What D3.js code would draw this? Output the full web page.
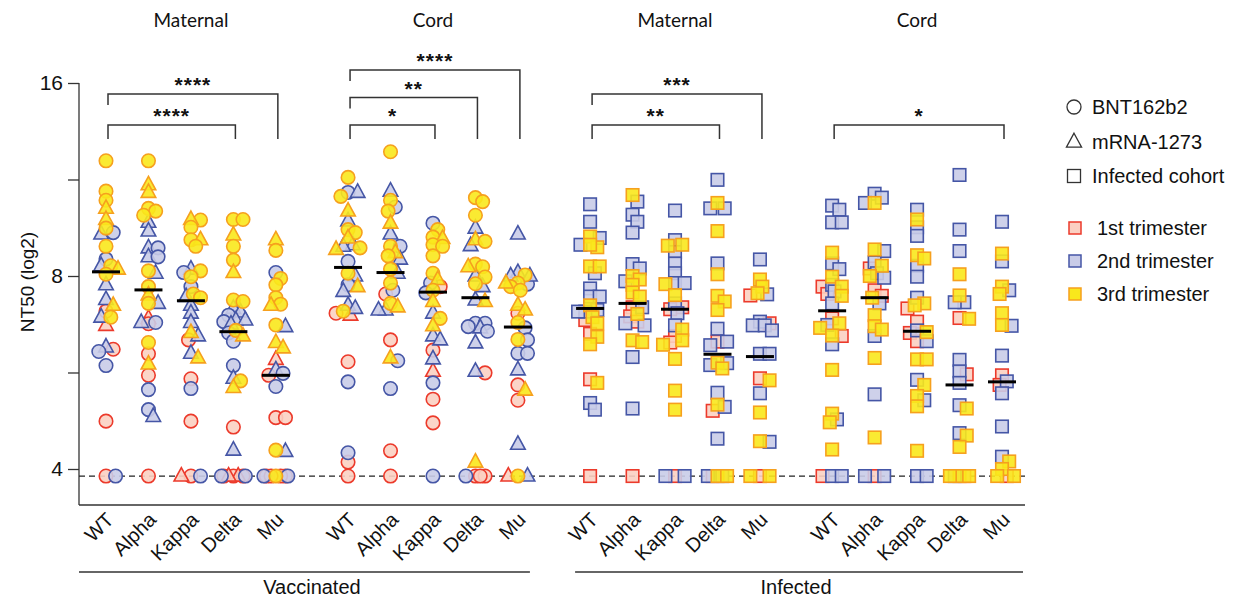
<!DOCTYPE html>
<html>
<head>
<meta charset="utf-8">
<script src="https://cdn.jsdelivr.net/npm/d3@7"></script>
<style>
  body { margin: 0; background: #fff; }
  text { font-family: "Liberation Sans", Arial, sans-serif; fill: #111; }
</style>
</head>
<body>
<svg id="chart" width="1245" height="598"></svg>
<script>
const variants = ["WT", "Alpha", "Kappa", "Delta", "Mu"];
const panels = ["Maternal", "Cord", "Maternal", "Cord"];
const cohorts = ["Vaccinated", "Infected"];
const yTicks = [4, 5.657, 8, 11.314, 16];
const LOD = 3.9;

// vaccinated: [NT50 (log2), vaccine C=BNT162b2 / T=mRNA-1273, trimester]
const vmWT = [[12.1,"C",3],[10.85,"C",3],[10.5,"C",3],[10.2,"T",3],[9.8,"T",3],[9.5,"C",3],[9.35,"C",2],[9.3,"T",2],[8.9,"C",3],[8.5,"C",2],[8.3,"C",3],[8.3,"T",2],[8.2,"T",3],[8.05,"C",3],[7.75,"T",2],[7.35,"T",2],[7.2,"T",3],[7.05,"C",1],[6.9,"C",3],[6.9,"T",2],[6.7,"T",1],[6.15,"C",1],[6.2,"T",2],[6.1,"C",2],[5.8,"C",2],[4.75,"C",1],[3.9,"C",1],[3.9,"C",2]];
const vmAlpha = [[12.1,"C",3],[11.1,"T",3],[10.8,"T",3],[10.2,"C",3],[10.1,"C",3],[9.95,"C",3],[9.7,"T",2],[9.4,"T",2],[8.85,"T",2],[8.85,"C",2],[8.57,"T",2],[8.57,"C",2],[8.15,"C",3],[8.08,"T",2],[7.7,"C",3],[7.47,"T",3],[7.25,"C",3],[7.25,"T",2],[6.87,"T",1],[6.74,"C",1],[6.77,"C",2],[6.77,"T",2],[6.3,"C",3],[6.05,"C",1],[5.83,"T",3],[5.6,"C",1],[5.32,"C",2],[4.95,"C",2],[4.83,"T",2],[3.9,"C",1]];
const vmKappa = [[9.78,"C",3],[9.8,"T",3],[9.53,"C",3],[9.11,"C",3],[9.11,"T",3],[8.9,"C",3],[8.2,"T",2],[8.1,"C",2],[8.15,"C",3],[7.98,"C",3],[7.7,"C",2],[7.5,"C",3],[7.4,"C",3],[7.43,"T",2],[7.2,"T",2],[7.0,"T",2],[6.77,"T",2],[6.53,"T",3],[6.36,"C",1],[6.45,"T",2],[5.96,"T",3],[6.06,"T",2],[5.53,"C",1],[5.34,"C",2],[4.75,"C",1],[3.9,"C",1],[3.9,"C",2],[3.9,"T",1]];
const vmDelta = [[9.8,"C",3],[9.8,"C",3],[9.27,"T",3],[8.9,"C",3],[8.47,"C",3],[8.1,"T",3],[7.34,"C",3],[7.3,"C",3],[7.12,"T",2],[7.03,"T",2],[6.95,"C",2],[6.83,"T",2],[6.83,"T",2],[6.79,"C",2],[6.73,"T",2],[6.58,"C",3],[6.52,"C",2],[6.45,"T",3],[6.33,"C",2],[5.8,"C",2],[5.54,"T",2],[5.49,"C",3],[5.36,"T",3],[4.65,"C",1],[4.28,"T",2],[3.9,"C",1],[3.9,"C",1],[3.9,"C",1],[3.9,"T",1],[3.9,"T",1],[3.9,"C",2],[3.9,"C",2]];
const vmMu = [[9.11,"T",3],[8.77,"C",3],[8.1,"C",2],[7.93,"C",3],[7.75,"C",3],[7.4,"C",3],[7.23,"C",3],[7.2,"T",3],[6.71,"C",3],[6.67,"T",2],[6.3,"T",3],[6.18,"T",3],[5.93,"T",1],[5.71,"T",2],[5.64,"C",2],[5.6,"C",1],[5.38,"C",2],[4.81,"C",1],[4.81,"C",1],[4.28,"C",3],[4.26,"T",2],[3.9,"C",3],[3.9,"C",1],[3.9,"C",1],[3.9,"C",1],[3.9,"C",1],[3.9,"C",2],[3.9,"C",2]];
const vcWT = [[11.4,"C",3],[10.8,"C",2],[10.8,"T",2],[10.65,"C",3],[10.1,"T",3],[9.75,"T",2],[9.45,"C",3],[9.35,"C",3],[9.17,"T",3],[8.95,"T",2],[8.9,"T",2],[8.85,"C",3],[8.8,"T",3],[8.43,"C",2],[8.08,"C",3],[8.0,"T",2],[7.75,"C",2],[7.7,"T",3],[7.57,"T",2],[7.2,"T",2],[7.12,"T",2],[7.05,"C",3],[6.95,"T",1],[7.0,"C",1],[5.88,"C",1],[5.47,"C",2],[4.24,"C",2],[4.1,"C",1],[3.9,"C",1]];
const vcAlpha = [[12.5,"C",3],[10.85,"T",2],[10.5,"C",3],[10.25,"C",2],[10.1,"C",3],[9.67,"T",3],[9.3,"T",2],[8.9,"C",3],[8.9,"C",2],[8.7,"T",3],[8.6,"C",3],[8.5,"T",2],[8.2,"C",3],[8.08,"T",2],[7.8,"C",3],[7.6,"C",2],[7.5,"C",1],[7.25,"C",3],[7.08,"T",2],[7.08,"T",2],[7.16,"T",3],[6.36,"C",1],[5.96,"T",3],[5.9,"C",2],[5.34,"C",2],[4.27,"C",1],[3.9,"C",1]];
const vcKappa = [[9.67,"C",2],[9.45,"C",3],[9.2,"C",3],[9.15,"T",3],[8.95,"C",3],[8.9,"C",3],[8.6,"C",3],[8.08,"C",3],[7.9,"T",3],[7.8,"C",2],[7.7,"C",1],[7.6,"C",3],[7.53,"C",2],[7.3,"T",3],[7.0,"T",2],[6.87,"C",3],[6.69,"T",3],[6.45,"T",2],[6.36,"T",2],[6.13,"C",1],[5.94,"T",2],[5.68,"T",1],[5.45,"C",2],[5.14,"C",1],[4.72,"C",1],[3.9,"C",2]];
const vcDelta = [[10.6,"C",3],[10.45,"C",3],[9.95,"C",3],[9.5,"T",2],[9.11,"T",3],[9.06,"C",3],[8.92,"T",2],[8.35,"C",3],[8.27,"C",3],[8.27,"T",3],[7.97,"C",3],[8.0,"T",2],[7.78,"C",3],[7.7,"T",2],[7.3,"T",3],[7.34,"T",2],[6.75,"C",2],[6.75,"C",2],[6.64,"T",2],[6.56,"C",2],[6.67,"C",2],[6.29,"T",2],[5.65,"C",1],[5.68,"T",2],[4.1,"T",3],[3.9,"C",1],[3.9,"C",1],[3.9,"C",2],[3.9,"C",1]];
const vcMu = [[9.3,"T",2],[8.1,"T",2],[8.0,"T",2],[7.77,"C",2],[8.03,"C",3],[7.8,"C",3],[7.7,"C",3],[7.8,"T",3],[8.0,"T",2],[7.6,"C",3],[7.2,"T",3],[7.0,"C",1],[7.08,"T",3],[6.77,"C",3],[6.64,"C",2],[6.37,"C",3],[6.36,"C",2],[6.06,"C",2],[6.06,"C",2],[5.71,"T",2],[5.41,"C",1],[5.31,"T",3],[5.12,"C",1],[4.37,"T",2],[3.9,"C",3],[3.9,"T",2],[3.9,"T",1]];

// infected cohort: [NT50 (log2), trimester]
const imWT = [[10.35,2],[9.72,2],[9.22,3],[9.17,2],[8.87,3],[8.95,3],[8.95,2],[8.28,3],[8.28,3],[8.08,2],[7.65,2],[7.43,2],[7.43,2],[7.2,3],[7.08,2],[7.04,2],[7.04,2],[6.83,1],[6.9,3],[6.75,3],[6.5,1],[6.43,3],[6.26,3],[5.52,1],[5.45,3],[5.07,2],[4.95,2],[3.9,1]];
const imAlpha = [[10.7,3],[10.45,2],[9.97,2],[9.72,2],[9.35,2],[8.35,2],[8.22,2],[8.0,3],[7.9,3],[7.85,2],[7.75,3],[7.54,3],[7.43,3],[7.15,1],[7.15,2],[6.98,3],[6.92,1],[6.75,2],[6.7,2],[6.79,1],[6.35,3],[6.31,3],[5.98,2],[4.97,2],[3.9,1]];
const imKappa = [[10.12,2],[8.95,3],[8.92,3],[9.1,2],[8.72,2],[8.37,2],[8.08,2],[7.8,2],[7.8,2],[7.77,3],[7.47,3],[7.25,2],[7.15,1],[7.1,1],[7.0,2],[6.7,2],[6.45,1],[6.6,3],[6.35,3],[6.3,1],[6.25,3],[5.94,3],[5.3,3],[4.95,3],[3.9,1],[3.9,2],[3.9,2]];
const imDelta = [[11.3,2],[10.4,3],[10.2,2],[10.2,2],[9.4,3],[8.37,2],[8.05,3],[7.45,3],[7.3,3],[7.08,3],[6.62,2],[6.32,1],[6.32,2],[6.24,2],[5.85,2],[5.86,3],[5.74,3],[5.81,2],[5.26,2],[5.0,2],[5.04,3],[4.93,1],[4.46,2],[3.9,3],[3.9,3],[3.9,2],[3.9,2],[3.9,1]];
const imMu = [[8.49,2],[7.9,3],[7.7,3],[7.52,3],[7.46,1],[7.49,2],[6.79,2],[6.7,2],[6.7,2],[6.75,1],[6.58,2],[6.05,2],[6.05,2],[5.54,1],[5.5,3],[5.25,2],[4.9,3],[4.42,3],[4.41,2],[3.9,1],[3.9,3],[3.9,3]];
const icWT = [[10.3,2],[10.15,2],[9.7,2],[9.7,2],[8.7,3],[8.37,2],[8.2,2],[7.98,3],[7.75,2],[7.7,3],[7.7,1],[7.57,2],[7.45,3],[7.5,1],[7.25,2],[6.87,1],[6.75,3],[6.71,2],[6.64,3],[6.45,1],[6.46,3],[6.26,2],[5.71,3],[4.78,2],[4.88,3],[4.73,3],[4.29,3],[3.9,2],[3.9,2],[3.9,1]];
const icAlpha = [[10.75,2],[10.6,2],[10.4,3],[10.4,2],[8.8,3],[8.75,2],[8.4,2],[8.3,3],[8.22,1],[8.0,3],[8.08,2],[7.95,2],[7.6,1],[7.45,1],[7.25,2],[7.4,3],[6.95,3],[6.68,3],[6.6,3],[6.45,2],[5.96,3],[5.23,2],[4.48,3],[3.9,1],[3.9,2],[3.9,2]];
const icKappa = [[10.15,2],[9.8,3],[9.53,2],[9.24,2],[8.62,3],[8.52,3],[8.3,2],[7.98,2],[7.25,3],[7.4,2],[7.2,3],[7.12,1],[6.79,1],[6.52,1],[6.58,2],[6.54,3],[6.33,1],[6.33,2],[5.93,3],[5.93,3],[5.51,2],[5.41,3],[5.2,3],[5.12,2],[5.01,3],[4.27,3],[3.9,2],[3.9,2]];
const icDelta = [[11.5,2],[9.45,2],[8.75,2],[8.05,3],[7.46,3],[7.28,2],[7.28,2],[6.86,3],[6.88,1],[5.92,2],[5.68,2],[5.62,1],[5.45,2],[5.03,2],[4.97,3],[4.55,2],[4.51,3],[4.33,3],[3.9,3],[3.9,3],[3.9,3],[3.9,1],[3.9,2]];
const icMu = [[9.72,2],[8.67,3],[8.43,2],[7.7,3],[7.5,3],[7.6,2],[7.0,3],[6.71,3],[6.69,2],[6.01,2],[5.6,1],[5.48,2],[5.41,1],[5.25,2],[4.66,2],[4.18,2],[4.11,3],[4.0,3],[3.9,1],[3.9,3],[3.9,3]];

const medians = [
  [8.12, 7.61, 7.32, 6.55, 5.6],
  [8.25, 8.1, 7.55, 7.4, 6.66],
  [7.12, 7.25, 7.1, 6.04, 5.99],
  [7.06, 7.4, 6.56, 5.41, 5.47]
];

// [panel, from variant, to variant, stack level, label]
const brackets = [
  [0, 0, 4, 1, "****"], [0, 0, 3, 0, "****"],
  [1, 0, 4, 2, "****"], [1, 0, 3, 1, "**"], [1, 0, 2, 0, "*"],
  [2, 0, 4, 1, "***"], [2, 0, 3, 0, "**"],
  [3, 0, 4, 0, "*"]
];

const groups = [
  [vmWT, vmAlpha, vmKappa, vmDelta, vmMu],
  [vcWT, vcAlpha, vcKappa, vcDelta, vcMu],
  [imWT, imAlpha, imKappa, imDelta, imMu],
  [icWT, icAlpha, icKappa, icDelta, icMu]
];

const triFill = { 1: "#fbd0c2", 2: "#c9cce8", 3: "#f9e81c" };
const triStroke = { 1: "#ec3a2b", 2: "#4556a6", 3: "#f6a01e" };

const svg = d3.select("#chart");
const y = d3.scaleLog().base(2).domain([4, 16]).range([469, 83]);
const slot = (g, i) => g * 5.7 + i;
const x = d3.scaleLinear().domain([0, slot(3, 4)]).range([106, 1002]);

const axisX0 = 79, axisX1 = 1025, axisY = 505;

// y axis
const yAxis = svg.append("g").attr("transform", `translate(${axisX0},0)`)
  .call(d3.axisLeft(y).tickValues(yTicks).tickSize(11)
    .tickFormat(d => [4, 8, 16].includes(d) ? d : ""));
yAxis.select(".domain").remove();
yAxis.selectAll("line").attr("stroke", "#333").attr("stroke-width", 1.3);
yAxis.selectAll("text").attr("font-size", 21).attr("x", -16)
  .style("font-family", "Liberation Sans, Arial, sans-serif").attr("fill", "#111");

svg.append("line").attr("x1", axisX0).attr("x2", axisX0).attr("y1", y(16)).attr("y2", axisY)
  .attr("stroke", "#333").attr("stroke-width", 1.3);
svg.append("line").attr("x1", axisX0).attr("x2", axisX1).attr("y1", axisY).attr("y2", axisY)
  .attr("stroke", "#333").attr("stroke-width", 1.3);

svg.append("text").attr("transform", `translate(34,${282}) rotate(-90)`)
  .attr("text-anchor", "middle").attr("font-size", 19).text("NT50 (log2)");

// limit of detection
svg.append("line").attr("x1", axisX0).attr("x2", axisX1).attr("y1", y(LOD)).attr("y2", y(LOD))
  .attr("stroke", "#222").attr("stroke-width", 1.2).attr("stroke-dasharray", "6,4");

// symbol paths
const triPath = s => `M0,${-s * 0.58}L${s / 2},${s * 0.34}L${-s / 2},${s * 0.34}Z`;
function drawMark(sel, shape, size) {
  if (shape === "C") return sel.append("circle").attr("r", size / 2);
  if (shape === "T") return sel.append("path").attr("d", triPath(size * 1.08));
  return sel.append("rect").attr("x", -size / 2).attr("y", -size / 2)
    .attr("width", size).attr("height", size);
}

// simple deterministic swarm
function dodge(pts) {
  const D = 7.5, placed = [];
  pts.slice().sort((a, b) => a.py - b.py).forEach(p => {
    let best = 0, bestD = -1;
    for (let k = 0; k <= 10; k++) {
      const off = (k % 2 ? 1 : -1) * Math.ceil(k / 2) * 2.4;
      let md = Infinity;
      placed.forEach(q => { md = Math.min(md, Math.hypot(q.dx - off, q.py - p.py)); });
      if (md >= D) { best = off; break; }
      if (md > bestD) { bestD = md; best = off; }
    }
    p.dx = best;
    placed.push(p);
  });
}

const marks = svg.append("g");
groups.forEach((panel, g) => {
  panel.forEach((arr, i) => {
    const pts = arr.map(d => g < 2
      ? { v: d[0], shape: d[1], tri: d[2] }
      : { v: d[0], shape: "S", tri: d[1] });
    pts.forEach(p => { p.py = y(p.v); });
    dodge(pts);
    const cx = x(slot(g, i));
    pts.sort((a, b) => a.tri - b.tri).forEach(p => {
      const gg = marks.append("g").attr("transform", `translate(${cx + p.dx},${p.py})`);
      drawMark(gg, p.shape, p.shape === "S" ? 12.5 : 13.5)
        .attr("fill", triFill[p.tri]).attr("fill-opacity", 0.9)
        .attr("stroke", triStroke[p.tri]).attr("stroke-width", 1.6);
    });
    svg.append("line").attr("x1", cx - 14).attr("x2", cx + 14)
      .attr("y1", y(medians[g][i])).attr("y2", y(medians[g][i]))
      .attr("stroke", "#000").attr("stroke-width", 3);
  });
});

// category labels
groups.forEach((panel, g) => {
  variants.forEach((v, i) => {
    svg.append("text")
      .attr("transform", `translate(${x(slot(g, i)) + 9},${521}) rotate(-45)`)
      .attr("text-anchor", "end").attr("font-size", 20).text(v);
  });
});

// panel headers
panels.forEach((p, g) => {
  svg.append("text").attr("x", x(slot(g, 2))).attr("y", 27)
    .attr("text-anchor", "middle").attr("font-size", 19)
    .style("font-family", "Lato, 'Liberation Sans', sans-serif").text(p);
});

// cohort lines
cohorts.forEach((c, k) => {
  const x0 = k === 0 ? axisX0 : x(slot(2, 0)) - 15;
  const x1 = k === 0 ? x(slot(1, 4)) + 12 : axisX1 - 2;
  svg.append("line").attr("x1", x0).attr("x2", x1).attr("y1", 572).attr("y2", 572)
    .attr("stroke", "#333").attr("stroke-width", 1.3);
  svg.append("text").attr("x", (x(slot(2 * k, 2)) + x(slot(2 * k + 1, 2))) / 2).attr("y", 594)
    .attr("text-anchor", "middle").attr("font-size", 20).text(c);
});

// significance brackets
brackets.forEach(([g, a, b, lvl, lab]) => {
  const nLev = d3.max(brackets.filter(d => d[0] === g), d => d[3]) + 1;
  const step = nLev === 3 ? 27.5 : 31;
  const top = 125 - lvl * step;
  const xa = x(slot(g, a)) + 2, xb = x(slot(g, b)) + 2;
  const leftBottom = lvl === 0 ? 139 : top + 11;
  svg.append("path")
    .attr("d", `M${xa},${leftBottom}V${top}H${xb}V139`)
    .attr("fill", "none").attr("stroke", "#333").attr("stroke-width", 1.5);
  svg.append("text").attr("x", (xa + xb) / 2).attr("y", top - 2)
    .attr("text-anchor", "middle").attr("font-size", 21).attr("font-weight", "bold")
    .attr("letter-spacing", 1).text(lab);
});

// legend
const legShapes = [["C", "BNT162b2", 107], ["T", "mRNA-1273", 142], ["S", "Infected cohort", 176]];
legShapes.forEach(([s, label, ly]) => {
  const gg = svg.append("g").attr("transform", `translate(1074,${ly})`);
  drawMark(gg, s, s === "S" ? 13 : 14).attr("fill", "none").attr("stroke", "#333").attr("stroke-width", 1.3);
  svg.append("text").attr("x", 1092).attr("y", ly + 7).attr("font-size", 20).text(label);
});
const legTri = [[1, "1st trimester", 228], [2, "2nd trimester", 261], [3, "3rd trimester", 294]];
legTri.forEach(([t, label, ly]) => {
  svg.append("rect").attr("x", 1069).attr("y", ly - 6).attr("width", 12).attr("height", 12)
    .attr("fill", triFill[t]).attr("stroke", triStroke[t]).attr("stroke-width", 1.5);
  svg.append("text").attr("x", 1097).attr("y", ly + 7).attr("font-size", 20).text(label);
});
</script>
</body>
</html>
